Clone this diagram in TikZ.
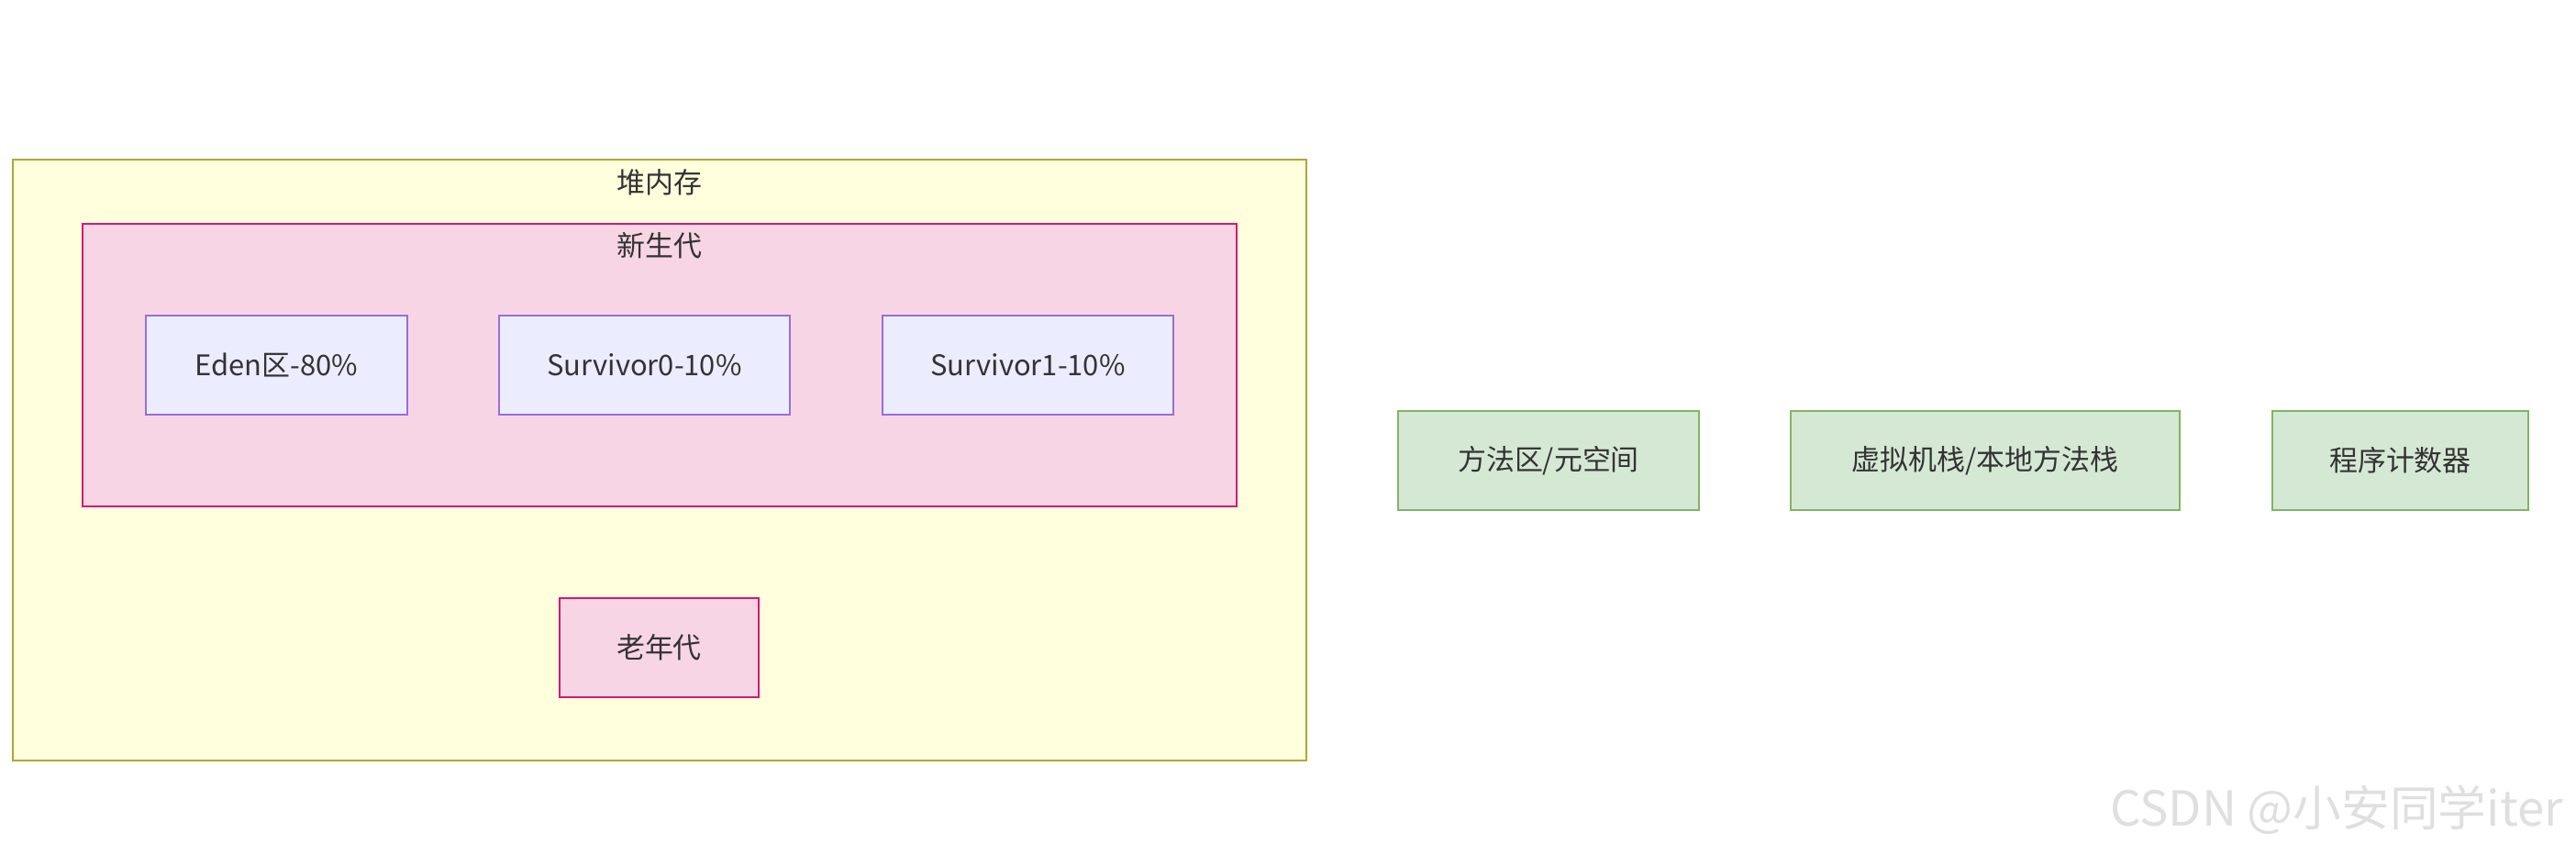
\documentclass[tikz,border=0pt]{standalone}
\usepackage{fontspec}
\setmainfont{Noto Sans CJK SC}
\usepackage{tikz}
\usetikzlibrary{positioning}
\definecolor{heapfill}{HTML}{FFFFDE}
\definecolor{heapline}{HTML}{AAAA33}
\definecolor{genfill}{HTML}{F8D5E5}
\definecolor{genline}{HTML}{D0197A}
\definecolor{areafill}{HTML}{ECECFF}
\definecolor{arealine}{HTML}{9370DB}
\definecolor{memfill}{HTML}{D5E8D4}
\definecolor{memline}{HTML}{82B366}
\definecolor{txt}{HTML}{333333}

\begin{document}
\begin{tikzpicture}[font=\fontsize{8.8}{10}\selectfont, text=txt, line width=0.6pt,
    heapbox/.style={draw=heapline, fill=heapfill, minimum width=14.10cm, minimum height=6.55cm},
    genbox/.style={draw=genline, fill=genfill, minimum height=1.08cm},
    areabox/.style={draw=arealine, fill=areafill, minimum height=1.08cm},
    membox/.style={draw=memline, fill=memfill, minimum height=1.08cm}]
                    \useasboundingbox (0,0) rectangle (28.08,-9.31);
                    % heap
                    \node[heapbox] (heap) at (7.19,-5.015) {};
                    \node (heaplbl) at (7.19,-1.99) {堆内存};
                    \node[genbox, minimum width=12.58cm, minimum height=3.08cm] (young) at (7.19,-3.98) {};
                    \node (younglbl) at (7.19,-2.68) {新生代};
                    \node[areabox, minimum width=2.85cm] (eden) at (3.015,-3.98) {Eden区-80\%};
                    \node[areabox, minimum width=3.17cm] (s0) at (7.025,-3.98) {Survivor0-10\%};
                    \node[areabox, minimum width=3.17cm] (s1) at (11.205,-3.98) {Survivor1-10\%};
                    \node[genbox, minimum width=2.17cm] (old) at (7.185,-7.06) {老年代};
                    
                    % other areas
                    \node[membox, minimum width=3.28cm] (meta) at (16.88,-5.02) {方法区/元空间};
                    \node[membox, minimum width=4.24cm] (stack) at (21.64,-5.02) {虚拟机栈/本地方法栈};
                    \node[membox, minimum width=2.79cm] (pc) at (26.165,-5.02) {程序计数器};
                    
                    \node[text=gray!25, font=\fontsize{15}{16}\selectfont] (mark) at (25.47,-8.83) {CSDN @小安同学iter};
                \end{tikzpicture}
\end{document}
